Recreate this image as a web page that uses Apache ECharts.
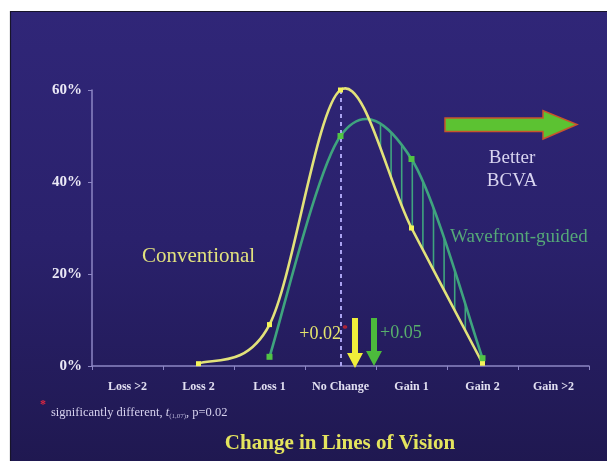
<!DOCTYPE html>
<html>
<head>
<meta charset="utf-8">
<script src="https://cdn.jsdelivr.net/npm/echarts@6/dist/echarts.min.js"></script>
<style>
  html, body { margin: 0; padding: 0; background: #ffffff; }
  #chart { width: 607px; height: 461px; }
</style>
</head>
<body>
<div id="chart"></div>
<script>
// ---- data ----
const categories = ['Loss >2', 'Loss 2', 'Loss 1', 'No Change', 'Gain 1', 'Gain 2', 'Gain >2'];
const conventional = [null, 0.5, 9, 60, 30, 0.6, null];
const wavefront = [null, null, 2, 50, 45, 1.7, null];
const yTicks = [0, 20, 40, 60];
const titleText = 'Change in Lines of Vision';
const footnote = 'significantly different, ';

const SERIF = '"Liberation Serif", "Times New Roman", serif';
const YELLOW = '#e2e27a';
const GREEN = '#3fa47e';

function curvePts(api, values) {
  const pts = [];
  values.forEach(function (v, i) { if (v != null) pts.push(api.coord([i, v])); });
  return pts;
}
function bezierSegs(pts) {
  const segs = [];
  for (let i = 0; i < pts.length - 1; i++) {
    const p0 = pts[i - 1] || pts[i], p1 = pts[i], p2 = pts[i + 1], p3 = pts[i + 2] || pts[i + 1];
    const c1 = [p1[0] + (p2[0] - p0[0]) / 6, p1[1] + (p2[1] - p0[1]) / 6];
    const c2 = [p2[0] - (p3[0] - p1[0]) / 6, p2[1] - (p3[1] - p1[1]) / 6];
    segs.push([p1, c1, c2, p2]);
  }
  return segs;
}
function pathOf(segs) {
  let d = 'M' + segs[0][0][0] + ' ' + segs[0][0][1];
  segs.forEach(function (s) {
    d += ' C' + s[1][0] + ' ' + s[1][1] + ' ' + s[2][0] + ' ' + s[2][1] + ' ' + s[3][0] + ' ' + s[3][1];
  });
  return d;
}
function sample(segs) {
  const out = [];
  segs.forEach(function (s) {
    for (let k = 0; k <= 60; k++) {
      const t = k / 60, u = 1 - t;
      const a = u * u * u, b = 3 * u * u * t, c = 3 * u * t * t, e = t * t * t;
      out.push([a * s[0][0] + b * s[1][0] + c * s[2][0] + e * s[3][0],
                a * s[0][1] + b * s[1][1] + c * s[2][1] + e * s[3][1]]);
    }
  });
  return out;
}
function yAt(samples, x) {
  for (let i = 0; i < samples.length - 1; i++) {
    const a = samples[i], b = samples[i + 1];
    if ((a[0] <= x && b[0] >= x) || (a[0] >= x && b[0] <= x)) {
      if (b[0] === a[0]) return a[1];
      return a[1] + (b[1] - a[1]) * (x - a[0]) / (b[0] - a[0]);
    }
  }
  return null;
}

function renderCurves(params, api) {
  const ySegs = bezierSegs(curvePts(api, conventional));
  const gSegs = bezierSegs(curvePts(api, wavefront));
  const yS = sample(ySegs), gS = sample(gSegs);
  const children = [];
  // hatch between curves where wavefront is above conventional (right of No Change)
  const xStart = api.coord([3, 0])[0];
  const xEnd = api.coord([5, 0])[0];
  let cross = null;
  for (let x = xStart + 2; x < xEnd; x += 0.5) {
    const yy = yAt(yS, x), gy = yAt(gS, x);
    if (yy != null && gy != null && gy < yy) { cross = x; break; }
  }
  if (cross != null) {
    for (let x = cross + 11; x < xEnd - 10; x += 10.6) {
      const yy = yAt(yS, x), gy = yAt(gS, x);
      if (yy == null || gy == null || yy - gy < 2) continue;
      children.push({ type: 'line', shape: { x1: x, y1: gy, x2: x, y2: yy },
        style: { stroke: GREEN, lineWidth: 1.6 } });
    }
  }
  children.push({ type: 'path', shape: { pathData: pathOf(gSegs) },
    style: { stroke: GREEN, lineWidth: 2.6, fill: null } });
  children.push({ type: 'path', shape: { pathData: pathOf(ySegs) },
    style: { stroke: YELLOW, lineWidth: 2.6, fill: null } });
  return { type: 'group', children: children };
}

function txt(text, x, y, font, fill, align) {
  return { type: 'text', z: 50, style: { text: text, x: x, y: y, font: font, fill: fill,
    align: align || 'left', verticalAlign: 'middle', textAlign: align || 'left', textVerticalAlign: 'middle' } };
}
function downArrow(x, y1, y2, color) {
  return { type: 'polygon', z: 50, shape: { points: [
    [x - 3, y1], [x + 3, y1], [x + 3, y2 - 15], [x + 8, y2 - 15], [x, y2], [x - 8, y2 - 15], [x - 3, y2 - 15]] },
    style: { fill: color } };
}

const chart = echarts.init(document.getElementById('chart'), null, { renderer: 'canvas' });
chart.setOption({
  animation: false,
  backgroundColor: '#ffffff',
  grid: { left: 92, right: 18, top: 90, bottom: 95, containLabel: false },
  xAxis: {
    type: 'category', data: categories, boundaryGap: true,
    axisLine: { show: true, lineStyle: { color: '#8c86c4', width: 1.5 } },
    axisTick: { show: true, length: 4, lineStyle: { color: '#8c86c4' } },
    axisLabel: { interval: 0, color: '#e2e0f2', fontFamily: SERIF, fontWeight: 'bold', fontSize: 12, margin: 15 },
    splitLine: { show: false }
  },
  yAxis: {
    type: 'value', min: yTicks[0], max: yTicks[yTicks.length - 1], interval: 20,
    axisLine: { show: true, lineStyle: { color: '#8c86c4', width: 1.5 } },
    axisTick: { show: true, length: 4, lineStyle: { color: '#8c86c4' } },
    axisLabel: { color: '#ebe9f6', fontFamily: SERIF, fontWeight: 'bold', fontSize: 15, margin: 10,
      formatter: '{value}%' },
    splitLine: { show: false }
  },
  series: [
    { type: 'custom', coordinateSystem: 'cartesian2d', data: [0], renderItem: renderCurves, z: 3, clip: false,
      silent: true },
    { type: 'scatter', data: conventional, symbol: 'rect', symbolSize: 5, z: 5,
      itemStyle: { color: '#f4f45a', opacity: 1 },
      markLine: { silent: true, symbol: 'none', label: { show: false },
        lineStyle: { color: '#a9a2f0', type: [4, 4], width: 2 },
        data: [{ xAxis: 3 }] } },
    { type: 'scatter', data: wavefront, symbol: 'rect', symbolSize: 6, z: 6,
      itemStyle: { color: '#52c444', opacity: 1 } }
  ],
  graphic: [
    { type: 'rect', z: -10, silent: true, shape: { x: 10.5, y: 11.5, width: 600, height: 455 },
      style: { stroke: '#17142a', lineWidth: 1.2,
        fill: { type: 'linear', x: 0, y: 0, x2: 0, y2: 1, colorStops: [
          { offset: 0, color: '#302678' }, { offset: 0.5, color: '#2a216c' }, { offset: 1, color: '#1f1850' }] } } },
    { type: 'polygon', z: 50, shape: { points: [[445, 118], [543, 118], [543, 110.5], [577, 124.5], [543, 139], [543, 131.5], [445, 131.5]] },
      style: { fill: '#5cc232', stroke: '#c8542c', lineWidth: 1.5 } },
    txt('Better', 512, 158, '19px ' + SERIF, '#d9d5f0', 'center'),
    txt('BCVA', 512, 181, '19px ' + SERIF, '#d9d5f0', 'center'),
    txt('Conventional', 142, 256, '21px ' + SERIF, '#e2e27e'),
    txt('Wavefront-guided', 450, 237, '19px ' + SERIF, '#55a878'),
    txt('+0.02', 341, 334, '18px ' + SERIF, '#e6e66c', 'right'),
    txt('*', 345, 329, 'bold 11px ' + SERIF, '#e02828', 'center'),
    txt('+0.05', 380, 333, '18px ' + SERIF, '#58b06c'),
    downArrow(355, 318, 368, '#f0ee3a'),
    downArrow(374, 318, 366, '#4cba3c'),
    txt('*', 43, 405, 'bold 12px ' + SERIF, '#e02840', 'center'),
    { type: 'text', z: 50, style: {
      text: '{a|' + footnote + '}{i|t}{s|(1,07)}{a|, p=0.02}', x: 51, y: 413,
      verticalAlign: 'middle', textVerticalAlign: 'middle',
      rich: {
        a: { fontFamily: SERIF, fontSize: 12.5, fill: '#d6d2ee', color: '#d6d2ee' },
        i: { fontFamily: SERIF, fontSize: 12.5, fontStyle: 'italic', fill: '#d6d2ee', color: '#d6d2ee' },
        s: { fontFamily: SERIF, fontSize: 7, fill: '#b8b4d8', color: '#b8b4d8', padding: [6, 0, 0, 0] }
      } } },
    txt(titleText, 340, 444, 'bold 21px ' + SERIF, '#e4e45e', 'center')
  ]
});
</script>
</body>
</html>
